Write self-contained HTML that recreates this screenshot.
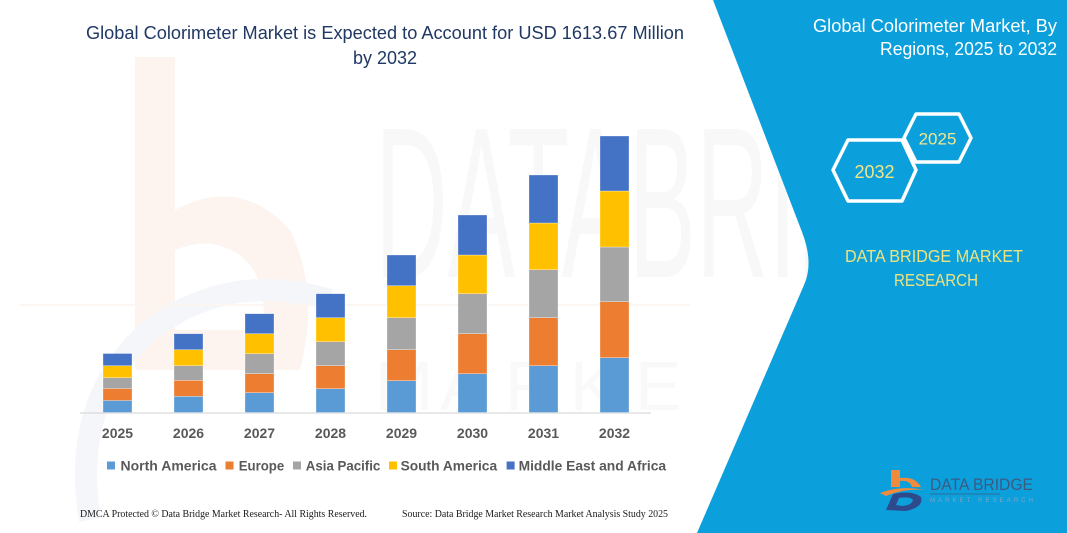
<!DOCTYPE html>
<html>
<head>
<meta charset="utf-8">
<style>
  html,body{margin:0;padding:0;background:#fff;}
  svg{display:block;}
  text{font-family:"Liberation Sans",sans-serif;}
</style>
</head>
<body>
<svg width="1067" height="533" viewBox="0 0 1067 533" xmlns="http://www.w3.org/2000/svg">
  <rect x="0" y="0" width="1067" height="533" fill="#ffffff"/>

  <!-- faint watermarks -->
  <g>
    <path d="M135,57 L175,57 L175,210 Q240,175 290,230 Q320,290 300,370 L135,370 Z M175,250 L175,330 L262,330 Q270,280 240,255 Q210,235 175,250 Z" fill="#fdf4ef" fill-rule="evenodd"/>
    <path d="M90,520 Q70,400 150,330 Q230,270 330,300" fill="none" stroke="#f4f6fa" stroke-width="22"/>
    <text x="375" y="277" font-size="215" fill="#f8f8f8" textLength="640" lengthAdjust="spacingAndGlyphs">DATABRIDGE</text>
    <line x1="20" y1="305" x2="690" y2="305" stroke="#fcf6f2" stroke-width="2"/>
    <g font-size="70" fill="#f9f9f9">
      <text x="375" y="410">M</text><text x="440" y="410">A</text><text x="505" y="410">R</text><text x="570" y="410">K</text><text x="635" y="410">E</text>
    </g>
  </g>

  <!-- Left title -->
  <text x="385" y="39" font-size="18" fill="#203864" text-anchor="middle" textLength="598" lengthAdjust="spacingAndGlyphs">Global Colorimeter Market is Expected to Account for USD 1613.67 Million</text>
  <text x="385" y="64" font-size="18" fill="#203864" text-anchor="middle" textLength="64" lengthAdjust="spacingAndGlyphs">by 2032</text>

  <!-- axis line -->
  <line x1="80" y1="413" x2="651" y2="413" stroke="#d9d9d9" stroke-width="1.2"/>

  <!-- bars -->
  <g stroke="#ffffff" stroke-width="0.6" stroke-opacity="0.5">
    <rect x="103" y="400.5" width="29" height="12" fill="#5B9BD5"/>
    <rect x="103" y="388.5" width="29" height="12" fill="#ED7D31"/>
    <rect x="103" y="377.7" width="29" height="10.8" fill="#A5A5A5"/>
    <rect x="103" y="365.7" width="29" height="12" fill="#FFC000"/>
    <rect x="103" y="353.5" width="29" height="12.2" fill="#4472C4"/>

    <rect x="174" y="396.3" width="29" height="16.2" fill="#5B9BD5"/>
    <rect x="174" y="380.3" width="29" height="16" fill="#ED7D31"/>
    <rect x="174" y="365.7" width="29" height="14.6" fill="#A5A5A5"/>
    <rect x="174" y="349.7" width="29" height="16" fill="#FFC000"/>
    <rect x="174" y="333.7" width="29" height="16" fill="#4472C4"/>

    <rect x="245" y="392.7" width="29" height="19.8" fill="#5B9BD5"/>
    <rect x="245" y="373.7" width="29" height="19" fill="#ED7D31"/>
    <rect x="245" y="353.7" width="29" height="20" fill="#A5A5A5"/>
    <rect x="245" y="333.7" width="29" height="20" fill="#FFC000"/>
    <rect x="245" y="313.7" width="29" height="20" fill="#4472C4"/>

    <rect x="316" y="388.7" width="29" height="23.8" fill="#5B9BD5"/>
    <rect x="316" y="365.7" width="29" height="23" fill="#ED7D31"/>
    <rect x="316" y="341.7" width="29" height="24" fill="#A5A5A5"/>
    <rect x="316" y="317.7" width="29" height="24" fill="#FFC000"/>
    <rect x="316" y="293.7" width="29" height="24" fill="#4472C4"/>

    <rect x="387" y="380.7" width="29" height="31.8" fill="#5B9BD5"/>
    <rect x="387" y="349.7" width="29" height="31" fill="#ED7D31"/>
    <rect x="387" y="317.7" width="29" height="32" fill="#A5A5A5"/>
    <rect x="387" y="285.7" width="29" height="32" fill="#FFC000"/>
    <rect x="387" y="255" width="29" height="30.7" fill="#4472C4"/>

    <rect x="458" y="373.7" width="29" height="38.8" fill="#5B9BD5"/>
    <rect x="458" y="333.7" width="29" height="40" fill="#ED7D31"/>
    <rect x="458" y="293.7" width="29" height="40" fill="#A5A5A5"/>
    <rect x="458" y="255" width="29" height="38.7" fill="#FFC000"/>
    <rect x="458" y="215" width="29" height="40" fill="#4472C4"/>

    <rect x="529" y="365.7" width="29" height="46.8" fill="#5B9BD5"/>
    <rect x="529" y="317.7" width="29" height="48" fill="#ED7D31"/>
    <rect x="529" y="269.7" width="29" height="48" fill="#A5A5A5"/>
    <rect x="529" y="223" width="29" height="46.7" fill="#FFC000"/>
    <rect x="529" y="175" width="29" height="48" fill="#4472C4"/>

    <rect x="600" y="357.7" width="29" height="54.8" fill="#5B9BD5"/>
    <rect x="600" y="301.7" width="29" height="56" fill="#ED7D31"/>
    <rect x="600" y="247" width="29" height="54.7" fill="#A5A5A5"/>
    <rect x="600" y="191" width="29" height="56" fill="#FFC000"/>
    <rect x="600" y="136" width="29" height="55" fill="#4472C4"/>
  </g>

  <!-- year labels -->
  <g font-size="14" font-weight="bold" fill="#595959" text-anchor="middle">
    <text x="117.5" y="438">2025</text>
    <text x="188.5" y="438">2026</text>
    <text x="259.5" y="438">2027</text>
    <text x="330.5" y="438">2028</text>
    <text x="401.5" y="438">2029</text>
    <text x="472.5" y="438">2030</text>
    <text x="543.5" y="438">2031</text>
    <text x="614.5" y="438">2032</text>
  </g>

  <!-- legend -->
  <g font-size="14" font-weight="bold" fill="#595959">
    <rect x="107" y="461.5" width="8" height="8" fill="#5B9BD5"/>
    <text x="120.5" y="470.5" textLength="96" lengthAdjust="spacingAndGlyphs">North America</text>
    <rect x="225.5" y="461.5" width="8" height="8" fill="#ED7D31"/>
    <text x="238.7" y="470.5" textLength="45.5" lengthAdjust="spacingAndGlyphs">Europe</text>
    <rect x="293" y="461.5" width="8" height="8" fill="#A5A5A5"/>
    <text x="305.8" y="470.5" textLength="74.5" lengthAdjust="spacingAndGlyphs">Asia Pacific</text>
    <rect x="389" y="461.5" width="8" height="8" fill="#FFC000"/>
    <text x="400.6" y="470.5" textLength="96.5" lengthAdjust="spacingAndGlyphs">South America</text>
    <rect x="506.6" y="461.5" width="8" height="8" fill="#4472C4"/>
    <text x="518.6" y="470.5" textLength="147.5" lengthAdjust="spacingAndGlyphs">Middle East and Africa</text>
  </g>

  <!-- footer -->
  <g font-size="10" fill="#1a1a1a">
    <text x="80" y="517" style="font-family:'Liberation Serif',serif" textLength="287" lengthAdjust="spacingAndGlyphs">DMCA Protected © Data Bridge Market Research-  All Rights Reserved.</text>
    <text x="402" y="517" style="font-family:'Liberation Serif',serif" textLength="266" lengthAdjust="spacingAndGlyphs">Source: Data Bridge Market Research  Market Analysis Study 2025</text>
  </g>

  <!-- right blue panel -->
  <path d="M713,0 L1067,0 L1067,533 L697,533 L804,285 Q814,263 802,232 Z" fill="#0BA0DC"/>

  <!-- right title -->
  <g font-size="18" fill="#ffffff" text-anchor="end">
    <text x="1057" y="32" textLength="244" lengthAdjust="spacingAndGlyphs">Global Colorimeter Market, By</text>
    <text x="1057" y="55" textLength="177" lengthAdjust="spacingAndGlyphs">Regions, 2025 to 2032</text>
  </g>

  <!-- hexagons -->
  <g fill="none" stroke="#ffffff" stroke-width="3.5" stroke-linejoin="round">
    <polygon points="904,138 916,114 959,114 971,138 959,162 916,162"/>
    <polygon points="833,170 848,140 902,140 916,170 902,201 848,201"/>
  </g>
  <text x="937.5" y="144.5" font-size="17" fill="#F0E68C" text-anchor="middle">2025</text>
  <text x="874.5" y="178" font-size="18" fill="#F0E68C" text-anchor="middle">2032</text>

  <!-- DBMR text -->
  <g font-size="17.5" fill="#EFE27E" text-anchor="middle">
    <text x="934" y="262" textLength="178" lengthAdjust="spacingAndGlyphs">DATA BRIDGE MARKET</text>
    <text x="936" y="286" textLength="84" lengthAdjust="spacingAndGlyphs">RESEARCH</text>
  </g>

  <!-- logo -->
  <g>
    <path d="M891,470 L900,470 L900,478 Q915,476 921,487 L891,487 Z" fill="#F08A3C"/>
    <path d="M900,481 Q910,480 912,487 L900,487 Z" fill="#0BA0DC"/>
    <path d="M880,493 Q900,485 925,490 Q905,488 886,496 Z" fill="#F08A3C"/>
    <path d="M886,510 L893,494 Q912,490 921,497 Q924,507 906,511 Z" fill="#2E4A8C"/>
    <path d="M896,505 L899,498 Q910,496 913,500 Q912,505 902,506 Z" fill="#0BA0DC"/>
    <text x="930" y="490" font-size="17" fill="#3C5A82" textLength="103" lengthAdjust="spacingAndGlyphs">DATA BRIDGE</text>
    <line x1="930" y1="494" x2="1000" y2="494" stroke="#3C5A82" stroke-width="0.8"/>
    <text x="930" y="502" font-size="6" fill="#7fa3c2" textLength="103" lengthAdjust="spacing">MARKET RESEARCH</text>
  </g>
</svg>
</body>
</html>
